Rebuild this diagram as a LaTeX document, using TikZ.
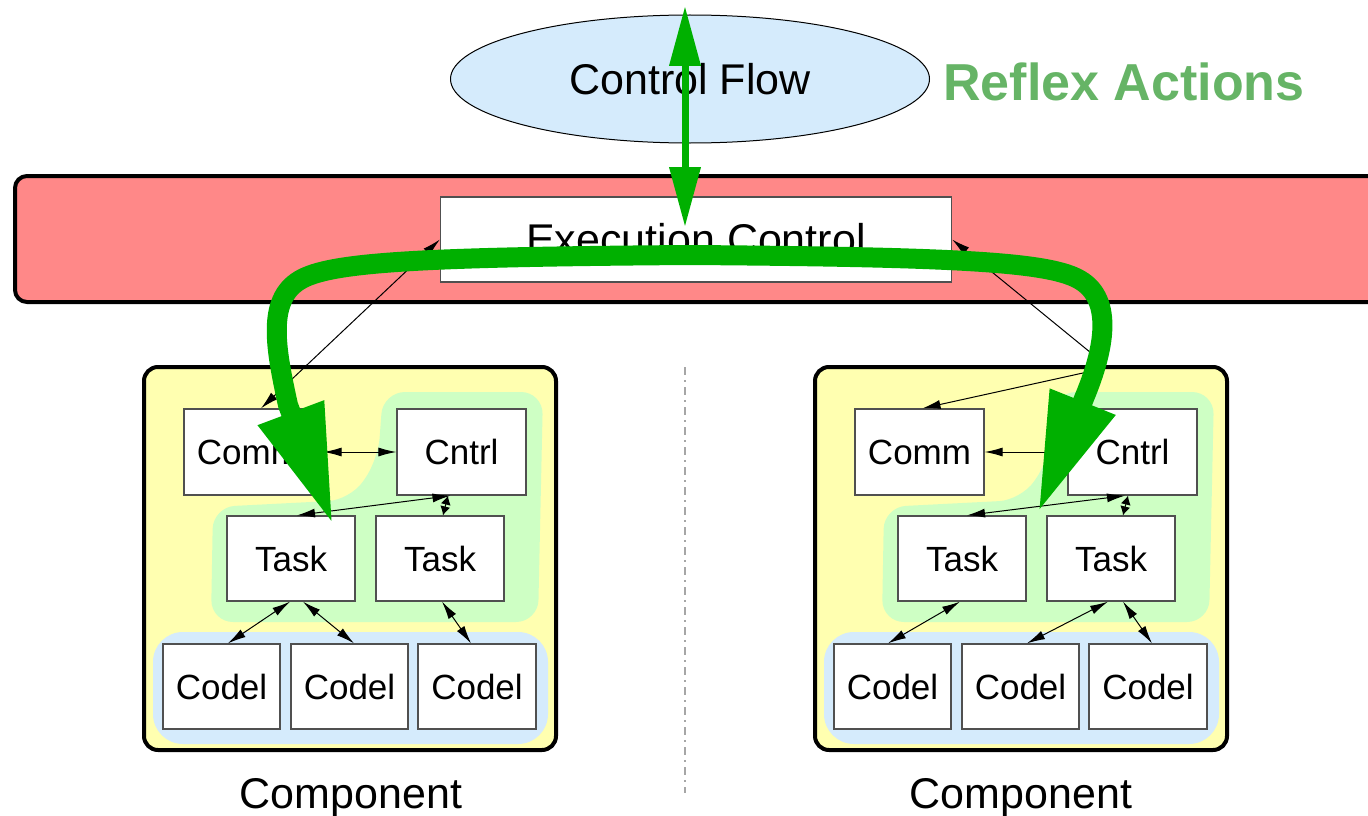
\documentclass[tikz,border=0pt]{standalone}
\usepackage{fontspec}
\setmainfont{Liberation Sans}
\usetikzlibrary{arrows.meta,shapes.geometric}
\definecolor{bandred}{RGB}{255,136,136}
\definecolor{compyellow}{RGB}{255,255,176}
\definecolor{groupgreen}{RGB}{206,255,196}
\definecolor{groupblue}{RGB}{213,235,252}
\definecolor{flowblue}{RGB}{213,235,252}
\definecolor{reflexgreen}{RGB}{0,176,0}
\definecolor{titlegreen}{RGB}{102,180,102}
\definecolor{boxline}{RGB}{80,80,80}

\begin{document}
\begin{tikzpicture}[x=1pt,y=-1pt,
  >={Latex[length=18pt,width=9pt]},
  unit/.style={draw=boxline, line width=1.3pt, fill=white, minimum width=#1,
    minimum height=85pt, inner sep=0pt, font=\fontsize{35}{40}\selectfont},
  link/.style={line width=1pt, black},
  shortlink/.style={line width=1pt, black,
    {Latex[length=9pt,width=10pt]}-{Latex[length=9pt,width=10pt]}},
  bigtitle/.style={font=\fontsize{43}{50}\selectfont},
  compframe/.style={draw=black, line width=4pt, fill=compyellow, rounded corners=14pt},
  reflex/.style={reflexgreen, line width=20pt,
    {Triangle[length=120pt,width=65pt]}-{Triangle[length=120pt,width=65pt]}},
  flowarrow/.style={reflexgreen, line width=7pt,
    {Triangle[length=60pt,width=30pt]}-{Triangle[length=60pt,width=30pt]}},
]
\useasboundingbox (0,0) rectangle (1368,816);

% execution layer
\path[draw=black, line width=4pt, fill=bandred, rounded corners=12pt]
  (15,176) rectangle (1400,302);
\node[draw=boxline, line width=1.3pt, fill=white, minimum width=511pt,
  minimum height=85pt, inner sep=0pt, bigtitle] (exec) at (696,239.5) {Execution Control};

% control flow
\node[ellipse, draw=black, line width=1pt, fill=flowblue, minimum width=479pt,
  minimum height=128pt, inner sep=0pt, bigtitle] (flow) at (690,79) {Control Flow};

% the two components
\foreach \p/\dx in {l/0,r/671}{
  \begin{scope}[xshift=\dx pt]
    \path[compframe] (144,367) rectangle (556,750);
    \fill[groupgreen, rounded corners=22pt] (383,392) -- (543,392) -- (538,622)
      -- (211,622) -- (213,507) -- (350,500) -- (378,460) -- cycle;
    \fill[groupblue, rounded corners=30pt] (153,632) rectangle (548,744);
    \node[unit=129pt, minimum height=86pt] (\p comm)  at (248.5,452) {Comm};
    \node[unit=129pt, minimum height=86pt] (\p cntrl) at (461.5,452) {Cntrl};
    \node[unit=128pt] (\p task1) at (291,558.5) {Task};
    \node[unit=128pt] (\p task2) at (440,558.5) {Task};
    \node[unit=117pt] (\p codel1) at (221.5,686.5) {Codel};
    \node[unit=117pt] (\p codel2) at (349.5,686.5) {Codel};
    \node[unit=118pt] (\p codel3) at (477,686.5) {Codel};
  \end{scope}
}
\node[bigtitle, anchor=base] (lname) at (351,808) {Component};
\node[bigtitle, anchor=base] (rname) at (1021,808) {Component};

% separator
\coordinate (septop) at (685,367);
\coordinate (sepbot) at (685,793);
\draw[gray!70, line width=1.5pt, dash pattern=on 8pt off 5pt on 2pt off 5pt] (septop) -- (sepbot);

% links inside the left component
\draw[link, <->] ([xshift=10pt]lcomm.east) -- (lcntrl.west);
\draw[link, <->] ([xshift=-11pt]lcntrl.south) -- ([xshift=6pt]ltask1.north);
\draw[shortlink] ([xshift=3pt]ltask2.north) -- ([xshift=-13.5pt]lcntrl.south);
\draw[link, <->] ([xshift=-1pt]ltask1.south) -- ([xshift=6.5pt]lcodel1.north);
\draw[link, <->] ([xshift=12pt]ltask1.south) -- ([xshift=4.5pt]lcodel2.north);
\draw[link, <->] ([xshift=2pt]ltask2.south) -- ([xshift=-6pt]lcodel3.north);

% links inside the right component
\draw[link, ->] (rcntrl.west) -- (rcomm.east);
\draw[link, <->] ([xshift=-7.5pt]rcntrl.south) -- ([xshift=5pt]rtask1.north);
\draw[shortlink] ([xshift=12pt]rtask2.north) -- ([xshift=-4.5pt]rcntrl.south);
\draw[link, <->] ([xshift=-2pt]rtask1.south) -- ([xshift=-4.5pt]rcodel1.north);
\draw[link, <->] ([xshift=-3pt]rtask2.south) -- ([xshift=6.5pt]rcodel2.north);
\draw[link, <->] ([xshift=12pt]rtask2.south) -- ([xshift=4pt]rcodel3.north);

% links from the execution control
\coordinate (rport) at (1107,366);
\coordinate (rport2) at (1092,371);
\draw[link, <->] (exec.west) -- ([xshift=12.5pt]lcomm.north);
\draw[link, <->] (exec.east) -- (rport);
\draw[link, ->] (rport2) -- ([xshift=3pt]rcomm.north);

% reflex actions
\coordinate (cftop) at (685,6);
\coordinate (cfbot) at (685,227);
\draw[flowarrow] (cftop) -- (cfbot);

\coordinate (reflexL) at (333,525);
\coordinate (reflexR) at (1038,513);
\draw[reflex] (reflexL) -- (288,405) .. controls (276,350) and (266,300) .. (300,280)
  .. controls (330,262) and (420,257) .. (690,255)
  .. controls (960,257) and (1050,262) .. (1080,280)
  .. controls (1114,300) and (1104,350) .. (1085,396) -- (reflexR);

\node[anchor=base, font=\bfseries\fontsize{52}{60}\selectfont, text=titlegreen]
  (reflextitle) at (1124,100) {Reflex Actions};
\end{tikzpicture}
\end{document}
